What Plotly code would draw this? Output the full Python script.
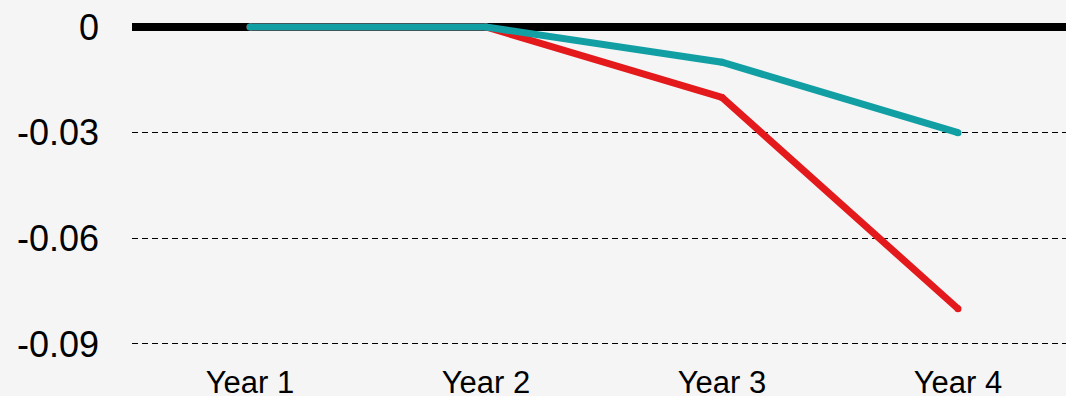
import plotly.graph_objects as go

years = ["Year 1", "Year 2", "Year 3", "Year 4"]
series_red = [0, 0, -0.02, -0.08]
series_teal = [0, 0, -0.01, -0.03]
y_ticks = [0, -0.03, -0.06, -0.09]
y_tick_labels = ["0", "-0.03", "-0.06", "-0.09"]

RED = "#E3191C"
TEAL = "#119FA4"
BG = "#F5F5F5"

fig = go.Figure()
fig.add_trace(go.Scatter(x=years, y=series_red, mode="lines+markers",
                         line=dict(color=RED, width=7),
                         marker=dict(color=RED, size=7), showlegend=False))
fig.add_trace(go.Scatter(x=years, y=series_teal, mode="lines+markers",
                         line=dict(color=TEAL, width=7),
                         marker=dict(color=TEAL, size=7), showlegend=False))

fig.update_layout(
    width=1066, height=396,
    margin=dict(l=132, r=0, t=0, b=36),
    paper_bgcolor=BG, plot_bgcolor=BG,
    font=dict(family="Liberation Sans, Arial, sans-serif", color="#000000"),
    xaxis=dict(type="category", range=[-0.5, 3.4576], showgrid=False,
               zeroline=False, showline=False, ticks="", automargin=False,
               tickfont=dict(size=31), ticklabelstandoff=1),
    yaxis=dict(range=[-0.09455, 0.00767], tickvals=y_ticks, ticktext=y_tick_labels,
               showgrid=True, gridcolor="#000000", gridwidth=1.4, griddash="6px,4px",
               zeroline=True, zerolinecolor="#000000", zerolinewidth=8,
               showline=False, ticks="", tickfont=dict(size=36), automargin=False,
               ticklabelstandoff=32),
)

fig.write_html("out.html")
